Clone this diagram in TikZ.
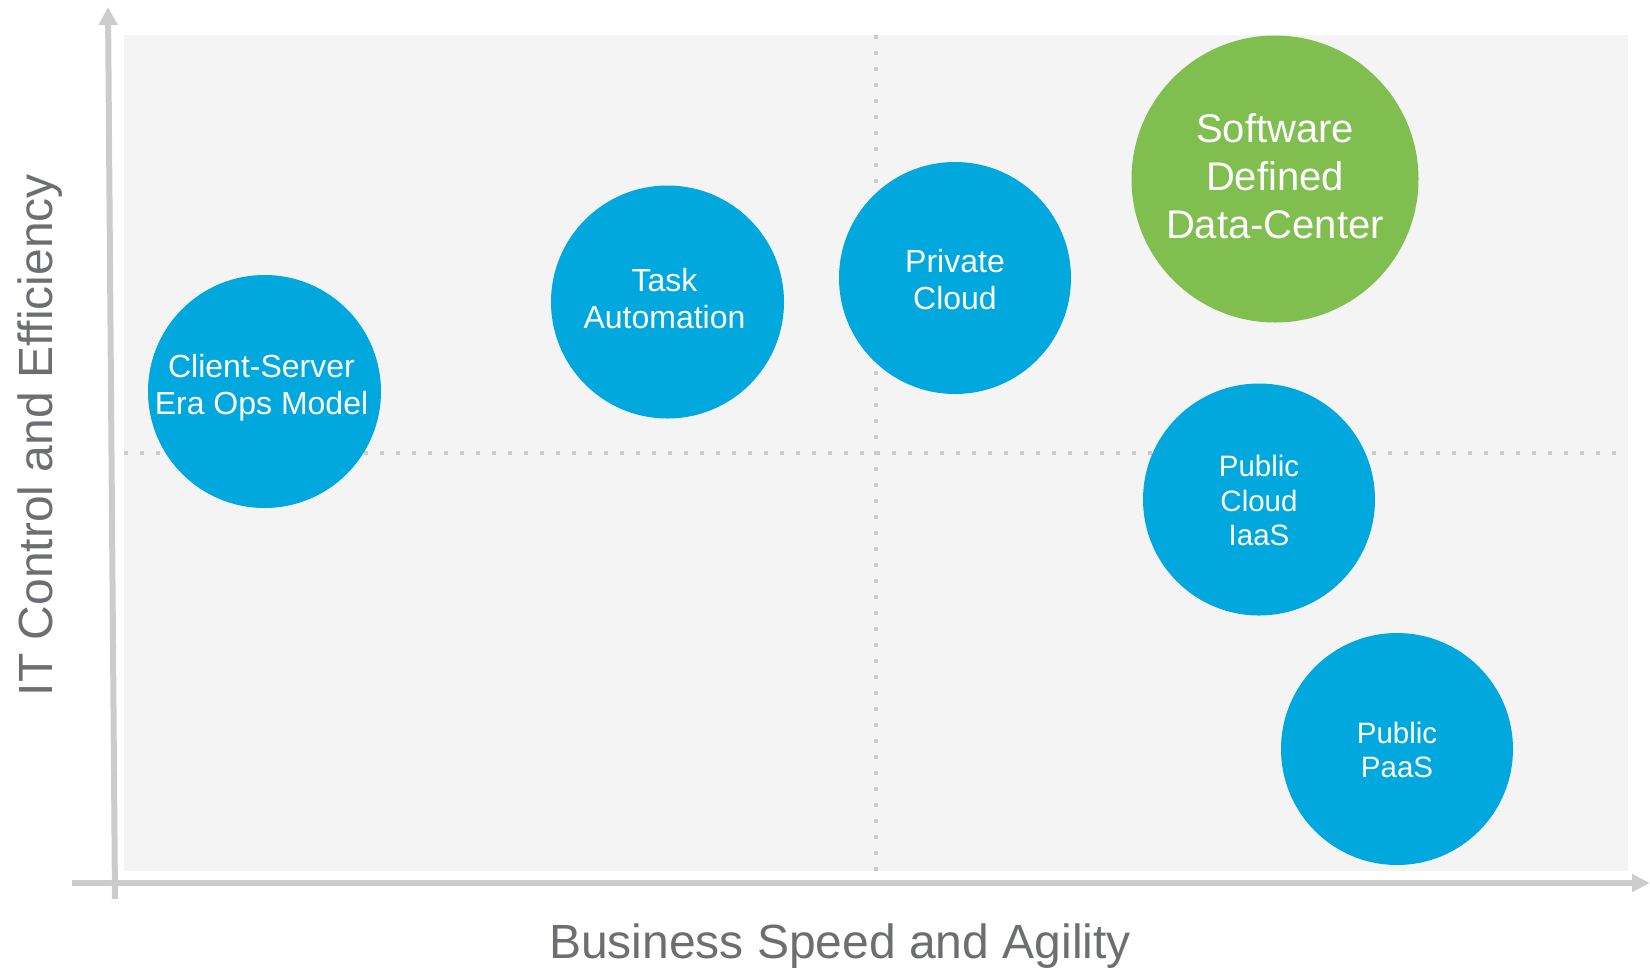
\documentclass[tikz,border=0pt]{standalone}
\usepackage{fontspec}
\setmainfont{Liberation Sans}
\usetikzlibrary{arrows.meta}
\definecolor{panel}{HTML}{F4F4F4}
\definecolor{axisgray}{HTML}{CCCCCC}
\definecolor{dotgray}{HTML}{CBCBCB}
\definecolor{labelgray}{HTML}{6D6E71}
\definecolor{bubbleblue}{HTML}{00A8DE}
\definecolor{bubblegreen}{HTML}{80BE50}
\begin{document}
\begin{tikzpicture}[x=1pt,y=-1pt,
  axisline/.style={draw=axisgray,line width=6pt},
  guide/.style={draw=dotgray,line width=3.5pt,dash pattern=on 3.5pt off 12.5pt},
  bubble/.style={circle,fill=bubbleblue,draw=none,inner sep=0pt,minimum size=232pt},
  bigbubble/.style={bubble,fill=bubblegreen,minimum size=287pt},
  btext/.style={text=white,align=center,inner sep=0pt,font=\fontsize{32}{37.5}\selectfont},
  smalltext/.style={btext,font=\fontsize{29.5}{34.5}\selectfont},
  bigtext/.style={btext,font=\fontsize{40}{48}\selectfont},
  axislabel/.style={text=labelgray,font=\fontsize{48}{56}\selectfont,inner sep=0pt,anchor=base}]
\useasboundingbox (0,0) rectangle (1650,970);
% panel
\fill[panel] (124,35) rectangle (1628,871);
% guides
\coordinate (hl) at (124,453);
\coordinate (hr) at (1620,453);
\coordinate (vt) at (876,35);
\coordinate (vb) at (876,872);
\draw[guide] (hl) -- (hr);
\draw[guide] (vt) -- (vb);
% axes
\coordinate (ybot) at (115,899);
\coordinate (ytop) at (108,7);
\coordinate (xleft) at (72,883);
\coordinate (xright) at (1650,883);
\draw[axisline,-{Triangle[length=18pt,width=18pt]}] (ybot) -- (ytop);
\draw[axisline,-{Triangle[length=18pt,width=17pt]}] (xleft) -- (xright);
% bubbles
\node[bubble,minimum size=233pt,label={[btext,xshift=-3pt,yshift=4pt]center:{Client-Server\\Era Ops Model}}] (cs) at (264.5,391.5) {};
\node[bubble,minimum size=233pt,label={[btext,xshift=-3pt,yshift=3.5pt]center:{Task\\Automation}}] (ta) at (667.5,302) {};
\node[bubble,label={[btext,yshift=-1.5pt]center:{Private\\Cloud}}] (pc) at (955,278) {};
\node[bigbubble,label={[bigtext,yshift=3pt]center:{Software\\Defined\\Data-Center}}] (sddc) at (1275,179) {};
\node[bubble,label={[smalltext,yshift=-1pt]center:{Public\\Cloud\\IaaS}}] (iaas) at (1259,499.5) {};
\node[bubble,label={[smalltext,yshift=-1pt]center:{Public\\PaaS}}] (paas) at (1397,749) {};
% axis labels
\node[axislabel] (xlab) at (840,958) {Business Speed and Agility};
\node[axislabel,rotate=90] (ylab) at (52,435) {IT Control and Efficiency};
\end{tikzpicture}
\end{document}
